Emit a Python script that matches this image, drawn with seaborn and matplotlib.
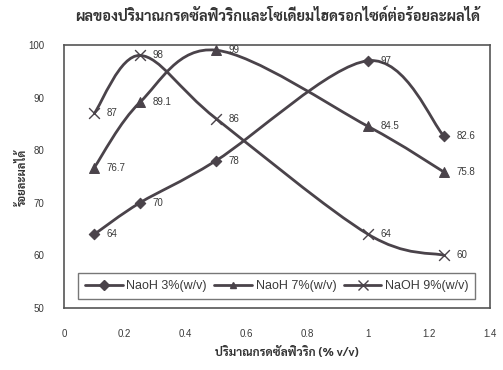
import matplotlib
matplotlib.use("Agg")
import matplotlib.pyplot as plt
from matplotlib.path import Path
from matplotlib.patches import PathPatch
from matplotlib.lines import Line2D
import numpy as np
import pandas as pd
import seaborn as sns

# Data: yield (%) against sulfuric acid amount for three NaOH strengths
acid = [0.1, 0.25, 0.5, 1.0, 1.25]
naoh_3 = [64, 70, 78, 97, 82.6]
naoh_7 = [76.7, 89.1, 99, 84.5, 75.8]
naoh_9 = [87, 98, 86, 64, 60]
series_names = ["NaoH 3%(w/v)", "NaoH 7%(w/v)", "NaOH 9%(w/v)"]
value_labels = [
    ["64", "70", "78", "97", "82.6"],
    ["76.7", "89.1", "99", "84.5", "75.8"],
    ["87", "98", "86", "64", "60"],
]
x_ticks = [0, 0.2, 0.4, 0.6, 0.8, 1, 1.2, 1.4]
x_tick_labels = ["0", "0.2", "0.4", "0.6", "0.8", "1", "1.2", "1.4"]
y_ticks = [50, 60, 70, 80, 90, 100]

title = "ผลของปริมาณกรดซัลฟิวริกและโซเดียมไฮดรอกไซด์ต่อร้อยละผลได้"
x_title = "ปริมาณกรดซัลฟิวริก (% v/v)"
y_title = "ร้อยละผลได้"

sns.set_theme(style="white")
plt.rcParams["font.family"] = ["Liberation Sans", "DejaVu Sans"]
thai = ["Sarabun", "DejaVu Sans"]

LINE = "#4a434a"
TXT = "#3a3a3a"

df = pd.DataFrame({
    "acid": acid * 3,
    "yield": naoh_3 + naoh_7 + naoh_9,
    "series": sum([[n] * len(acid) for n in series_names], []),
})

fig = plt.figure(figsize=(5.03, 3.70), dpi=100)
ax = fig.add_axes([0.127, 0.1676, 0.847, 0.711])


def smooth_path(xs, ys):
    """Smoothed line: cubic Bezier segments with Catmull-Rom controls."""
    pts = np.column_stack([xs, ys]).astype(float)
    n = len(pts)
    verts = [pts[0]]
    codes = [Path.MOVETO]
    for i in range(n - 1):
        p0 = pts[max(i - 1, 0)]
        p1 = pts[i]
        p2 = pts[i + 1]
        p3 = pts[min(i + 2, n - 1)]
        c1 = p1 + (p2 - p0) / 6.0
        c2 = p2 - (p3 - p1) / 6.0
        verts += [c1, c2, p2]
        codes += [Path.CURVE4] * 3
    return Path(verts, codes)


markers = {"NaoH 3%(w/v)": "D", "NaoH 7%(w/v)": "^", "NaOH 9%(w/v)": "x"}
sizes = {"NaoH 3%(w/v)": 28, "NaoH 7%(w/v)": 50, "NaOH 9%(w/v)": 60}

for name, ys in zip(series_names, [naoh_3, naoh_7, naoh_9]):
    ax.add_patch(PathPatch(smooth_path(acid, ys), facecolor="none",
                           edgecolor=LINE, lw=2.0, zorder=2))

for name in series_names:
    sub = df[df["series"] == name]
    kw = dict(linewidths=1.0) if markers[name] == "x" else dict(edgecolor=LINE, linewidth=0.8)
    sns.scatterplot(data=sub, x="acid", y="yield", marker=markers[name],
                    s=sizes[name], color=LINE, ax=ax, zorder=3, legend=False, **kw)

for ys, labs in zip([naoh_3, naoh_7, naoh_9], value_labels):
    for xv, yv, lab in zip(acid, ys, labs):
        ax.annotate(lab, (xv, yv), xytext=(9, 0), textcoords="offset points",
                    va="center", ha="left", fontsize=7, color=TXT)

ax.set_xlim(0, 1.4)
ax.set_ylim(50, 100)
ax.set_xticks(x_ticks)
ax.set_xticklabels(x_tick_labels)
ax.set_yticks(y_ticks)
ax.tick_params(axis="both", length=0, labelsize=7, labelcolor=TXT)
ax.tick_params(axis="x", pad=15)
ax.tick_params(axis="y", pad=14)
ax.set_xlabel("")
ax.set_ylabel("")
for sp in ax.spines.values():
    sp.set_color("#555555")
    sp.set_linewidth(1.2)

handles = [Line2D([], [], color=LINE, lw=2.0, marker=markers[n],
                  markersize=5 if markers[n] != "x" else 7,
                  markeredgewidth=1.0) for n in series_names]
leg = ax.legend(handles, series_names, loc="lower center",
                bbox_to_anchor=(0.5, 0.01), ncol=3, frameon=True,
                fontsize=9, handlelength=3.0, handletextpad=0.3,
                columnspacing=0.6, borderpad=0.55, fancybox=False,
                labelcolor=TXT)
leg.get_frame().set_edgecolor("#555555")
leg.get_frame().set_linewidth(1.0)

fig.text(0.551, 0.956, title, ha="center", va="center", fontsize=10.5,
         fontweight="bold", color="#333333", family=thai)
fig.text(0.57, 0.045, x_title, ha="center", va="center", fontsize=8.5,
         fontweight="bold", color="#333333", family=thai)
fig.text(0.045, 0.52, y_title, ha="center", va="center", rotation=90,
         fontsize=8, fontweight="bold", color="#333333", family=thai)

fig.savefig("out.png", dpi=100, facecolor="white")
